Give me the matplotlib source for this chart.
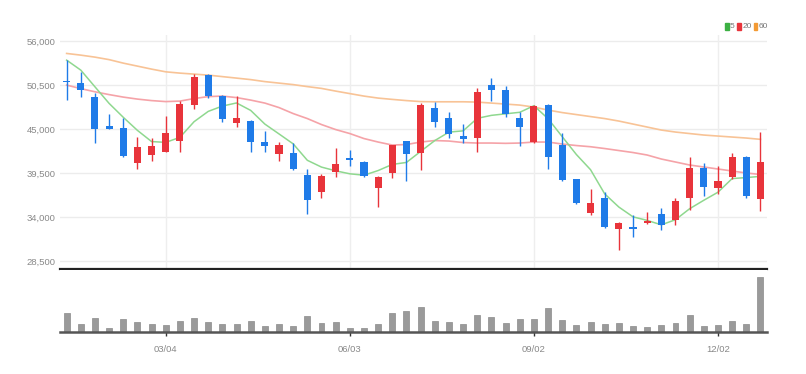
import numpy as np
import pandas as pd
import matplotlib
matplotlib.use("Agg")
import matplotlib.pyplot as plt

# weekly candles, 2019
dates = pd.date_range("2019-01-14", periods=50, freq="W-MON")
tick_dates = ["03/04", "06/03", "09/02", "12/02"]

opens = [51037, 50712, 49037, 45375, 45162, 40787, 41750, 42162, 43500, 48000,
         51750, 49125, 45787, 46000, 43375, 41875, 41962, 39212, 37162, 39662,
         41412, 40912, 37587, 39537, 43500, 41962, 47587, 46412, 44125, 43837,
         50500, 49875, 46412, 43412, 48000, 43000, 38712, 34537, 36412, 32462,
         32787, 33212, 34375, 33625, 36337, 40087, 37587, 38962, 41537, 36250]
highs = [53625, 52162, 49537, 46837, 46337, 44037, 43837, 46625, 48537, 51875,
         51875, 49250, 49125, 46125, 44750, 43412, 43287, 39962, 39337, 42587,
         42375, 41037, 39125, 43000, 43500, 48212, 48412, 47162, 45587, 50087,
         51337, 50412, 47087, 48000, 48087, 44462, 38712, 37462, 37087, 33412,
         34250, 34662, 35087, 36337, 41462, 40787, 40375, 42037, 41625, 44662]
lows = [48625, 48962, 43212, 44962, 41462, 39962, 41037, 42087, 42162, 47462,
        48837, 45837, 45212, 42087, 42162, 41037, 39875, 34375, 36337, 38962,
        40375, 39037, 35287, 38837, 38537, 39875, 45287, 43837, 43212, 42162,
        48500, 46537, 42912, 43300, 39962, 38500, 35625, 34250, 32662, 29875,
        31537, 33125, 32375, 33000, 34875, 36625, 36875, 38712, 36337, 34787]
closes = [50900, 49875, 44962, 44962, 41662, 42712, 42875, 44462, 48087, 51462,
          49162, 46212, 46412, 43412, 42912, 43000, 40000, 36125, 39162, 40587,
          41125, 39125, 39037, 43000, 41837, 48000, 45912, 44337, 43787, 49662,
          49875, 46875, 45287, 47912, 41537, 38625, 35712, 35787, 32787, 33287,
          32500, 33500, 33000, 36000, 40162, 37787, 38537, 41537, 36625, 40912]
volumes = [57, 24, 42, 12, 39, 31, 24, 22, 33, 42,
           29, 24, 24, 32, 18, 24, 18, 49, 27, 29,
           12, 12, 24, 57, 62, 74, 32, 30, 24, 52,
           46, 27, 39, 39, 71, 36, 22, 29, 24, 27,
           18, 15, 21, 27, 52, 18, 21, 33, 24, 165]

ma5_head = [53625, 52375, 50287, 48212]
ma20 = [50500, 50062, 49662, 49312, 49000, 48750, 48562, 48437, 48500, 48812,
        49062, 49125, 48937, 48625, 48250, 47687, 46937, 46312, 45562, 44937,
        44437, 43812, 43375, 43000, 43062, 43375, 43562, 43500, 43312, 43250,
        43250, 43212, 43250, 43375, 43375, 43125, 42937, 42787, 42562, 42312,
        42062, 41750, 41250, 40875, 40500, 40250, 40000, 39750, 39500, 39312]
ma60 = [54462, 54250, 54000, 53687, 53250, 52875, 52500, 52162, 52000, 51875,
        51750, 51562, 51375, 51187, 50937, 50750, 50562, 50312, 50087, 49750,
        49437, 49125, 48875, 48712, 48562, 48437, 48412, 48412, 48412, 48375,
        48250, 48125, 48000, 47750, 47375, 47062, 46812, 46562, 46312, 46000,
        45625, 45250, 44875, 44625, 44437, 44250, 44125, 44000, 43875, 43712]

df = pd.DataFrame({"open": opens, "high": highs, "low": lows, "close": closes,
                   "volume": volumes}, index=dates)
ma5 = df["close"].rolling(5).mean().values
ma5[:4] = ma5_head

UP = "#e8343b"
DOWN = "#1f7be8"
FONT = ["Liberation Sans", "DejaVu Sans"]
x = np.arange(len(df))
up = df["close"].values >= df["open"].values
colors = np.where(up, UP, DOWN)

fig = plt.figure(figsize=(8.06, 3.74), dpi=100)
ax = fig.add_axes([0.0744, 0.281, 0.877, 0.625])
axv = fig.add_axes([0.0744, 0.112, 0.877, 0.166], sharex=ax)

# grid
yticks = [28500, 34000, 39500, 45000, 50500, 56000]
for t in yticks:
    ax.axhline(t, color="#ececec", lw=1, zorder=0)
tick_idx = [i for i, d in enumerate(dates) if d.strftime("%m/%d") in tick_dates]
for i in tick_idx:
    ax.axvline(i, color="#eeeeee", lw=1, zorder=0)

# moving averages
ax.plot(x, ma60, color="#f8c396", lw=1.2, zorder=1)
ax.plot(x, ma20, color="#f5a3a8", lw=1.2, zorder=1)
ax.plot(x, ma5, color="#8fd88f", lw=1.1, zorder=1)

# candles
ax.vlines(x, df["low"], df["high"], colors=colors, lw=1, zorder=2)
body_lo = np.minimum(df["open"], df["close"])
body_h = np.maximum(np.abs(df["close"] - df["open"]), 110)
ax.bar(x, body_h, bottom=body_lo, width=0.5, color=colors, zorder=3)

ax.set_ylim(27500, 56750)
ax.set_yticks(yticks)
ax.set_yticklabels([f"{t:,}" for t in yticks])
ax.set_xlim(-0.47, 49.45)
for s in ["top", "right", "left"]:
    ax.spines[s].set_visible(False)
ax.spines["bottom"].set_color("#222222")
ax.spines["bottom"].set_linewidth(1.6)
ax.tick_params(axis="y", length=0, labelsize=6.8, labelcolor="#888888", pad=3)
ax.tick_params(axis="x", bottom=False, labelbottom=False)

# legend
ly = 0.929
for lab, c, lx in [("5", "#3cb043", 0.900), ("20", "#e8343b", 0.915), ("60", "#f39a34", 0.935)]:
    fig.patches.append(plt.Rectangle((lx, ly - 0.009), 0.004, 0.019, color=c,
                                     transform=fig.transFigure, figure=fig))
    fig.text(lx + 0.0058, ly, lab, fontsize=6, color="#777777",
             va="center", ha="left", family=FONT)

# volume
axv.bar(x, df["volume"], width=0.42, color="#9a9a9a", edgecolor="#8a8a8a", lw=0.5)
axv.set_ylim(0, 186)
for s in ["top", "right", "left"]:
    axv.spines[s].set_visible(False)
axv.spines["bottom"].set_color("#555555")
axv.spines["bottom"].set_linewidth(1.8)
axv.set_yticks([])
axv.set_xticks(tick_idx)
axv.set_xticklabels([dates[i].strftime("%m/%d") for i in tick_idx])
axv.tick_params(axis="x", length=3, width=1, color="#333333", labelsize=6.8,
                labelcolor="#888888", pad=6)

for lbl in ax.get_yticklabels() + axv.get_xticklabels():
    lbl.set_family(FONT)

fig.savefig("out.png", dpi=100)
